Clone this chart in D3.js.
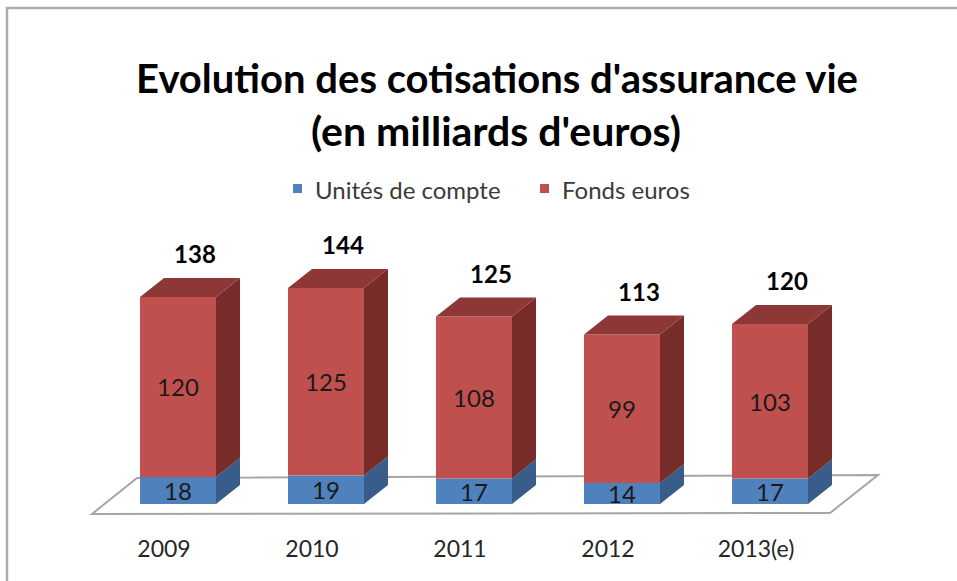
<!DOCTYPE html>
<html>
<head>
<meta charset="utf-8">
<script src="https://cdn.jsdelivr.net/npm/d3@7"></script>
<style>
  body { margin: 0; background: #fff; }
  svg { display: block; font-family: Lato, "Open Sans", sans-serif; }
</style>
</head>
<body>
<svg width="957" height="581"></svg>
<script>
var years = ["2009", "2010", "2011", "2012", "2013(e)"];
var unites = [18, 19, 17, 14, 17];        // Unités de compte
var fonds = [120, 125, 108, 99, 103];     // Fonds euros
var totals = [138, 144, 125, 113, 120];
var seriesNames = ["Unités de compte", "Fonds euros"];

var front = ["#4f81bd", "#c0504d"],
    side = ["#385d8a", "#772c2a"],
    top_ = ["#3f6899", "#8d3836"];

var svg = d3.select("svg"),
    width = +svg.attr("width"),
    height = +svg.attr("height");

// chart frame (only top + left edges show in the crop)
svg.append("path")
    .attr("d", "M7,581V8H957")
    .attr("fill", "none")
    .attr("stroke", "#ababab")
    .attr("stroke-width", 2.5);

// title
svg.append("text")
    .attr("x", 497).attr("y", 93)
    .attr("text-anchor", "middle")
    .style("font-size", "40px").style("font-weight", "bold")
    .text("Evolution des cotisations d'assurance vie");
svg.append("text")
    .attr("x", 496).attr("y", 146)
    .attr("text-anchor", "middle")
    .style("font-size", "41px").style("font-weight", "bold")
    .text("(en milliards d'euros)");

// legend
var legend = svg.append("g").attr("transform", "translate(293,191)");
var lx = [0, 247];
seriesNames.forEach(function(name, i) {
  var lg = legend.append("g").attr("transform", "translate(" + lx[i] + ",0)");
  lg.append("rect").attr("x", 0).attr("y", -7).attr("width", 9).attr("height", 9)
      .attr("fill", front[i]);
  lg.append("text").attr("x", 22).attr("y", 0).attr("dy", "0.35em")
      .style("font-size", "24px").attr("fill", "#3a3a3a")
      .text(name);
});

// scales
var x = d3.scaleBand()
    .domain(years)
    .range([104, 844])
    .paddingInner(72 / 148)
    .paddingOuter(36 / 148);

var y = d3.scaleLinear()
    .domain([0, 150])
    .range([504, 279]);

var dx = 24, dy = -19;

// floor
var r = x.range();
svg.append("path")
    .attr("d", "M" + (r[0] - 12) + "," + (y(0) + 10) +
               "L" + (r[0] + 33) + "," + (y(0) - 26) +
               "L" + (r[1] + 34) + "," + (y(0) - 29) +
               "L" + (r[1] - 14) + "," + (y(0) + 9) + "Z")
    .attr("fill", "#fff")
    .attr("stroke", "#a6a6a6")
    .attr("stroke-width", 2);

// stacked data
var rows = years.map(function(yr, i) {
  return { year: yr, u: unites[i], f: fonds[i], total: totals[i] };
});
var stack = d3.stack().keys(["u", "f"])(rows);

var g = svg.append("g");

stack.forEach(function(layer, k) {
  var lg = g.append("g");
  layer.forEach(function(d) {
    var x0 = x(d.data.year), w = x.bandwidth();
    var yb = y(d[0]), yt = y(d[1]);
    // side face
    lg.append("path")
        .attr("d", "M" + (x0 + w) + "," + yb + "L" + (x0 + w + dx) + "," + (yb + dy) +
                   "L" + (x0 + w + dx) + "," + (yt + dy) + "L" + (x0 + w) + "," + yt + "Z")
        .attr("fill", side[k]);
    // front face
    lg.append("rect")
        .attr("x", x0).attr("y", yt)
        .attr("width", w).attr("height", yb - yt)
        .attr("fill", front[k]);
    // top face on the last segment
    if (k === stack.length - 1) {
      lg.append("path")
          .attr("d", "M" + x0 + "," + yt + "L" + (x0 + dx) + "," + (yt + dy) +
                     "L" + (x0 + w + dx) + "," + (yt + dy) + "L" + (x0 + w) + "," + yt + "Z")
          .attr("fill", top_[k]);
    }
    // value label
    lg.append("text")
        .attr("x", x0 + w / 2).attr("y", (yb + yt) / 2 + 1)
        .attr("dy", "0.35em")
        .attr("text-anchor", "middle")
        .style("font-size", "24px")
        .attr("fill", "#1a1a1a")
        .text(d[1] - d[0]);
  });
});

// totals
g.selectAll(".total")
  .data(rows)
  .enter().append("text")
    .attr("class", "total")
    .attr("x", function(d) { return x(d.year) + x.bandwidth() / 2 + 17; })
    .attr("y", function(d) { return y(d.total) - 42; })
    .attr("dy", "0.35em")
    .attr("text-anchor", "middle")
    .style("font-size", "24px").style("font-weight", "bold")
    .attr("fill", "#000")
    .text(function(d) { return d.total; });

// category labels
svg.selectAll(".year")
  .data(years)
  .enter().append("text")
    .attr("class", "year")
    .attr("x", function(d) { return x(d) + x.bandwidth() / 2 - 14; })
    .attr("y", 549)
    .attr("dy", "0.35em")
    .attr("text-anchor", "middle")
    .style("font-size", "23px")
    .attr("fill", "#262626")
    .text(function(d) { return d; });
</script>
</body>
</html>
